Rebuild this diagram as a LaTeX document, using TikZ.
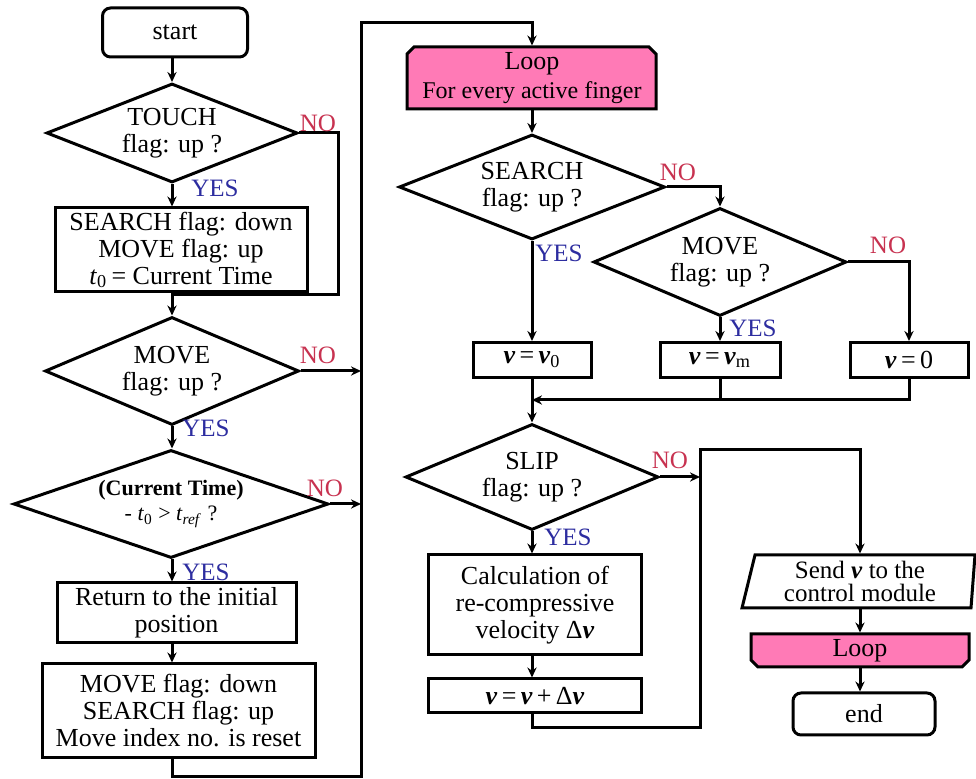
\documentclass[tikz,border=0pt]{standalone}
\usepackage{fontspec}
\setmainfont{Liberation Serif}
\usetikzlibrary{shapes.geometric,arrows.meta,calc}
\definecolor{nored}{RGB}{200,50,80}
\definecolor{yesblue}{RGB}{45,45,160}
\definecolor{loopink}{RGB}{255,122,182}
\newcommand{\vb}{\textbf{\textit{v}}}
\begin{document}
\begin{tikzpicture}[x=0.5pt,y=-0.5pt,
  line width=1.5pt,
  >={Stealth[length=5pt,width=4.6pt]},
  wh/.style 2 args={minimum width=#1*0.5pt,minimum height=#2*0.5pt},
  txt/.style={inner sep=0pt, align=center, font=\fontsize{13}{13.5}\selectfont},
  proc/.style={txt, draw=black, line width=1.5pt, rectangle},
  term/.style={txt, draw=black, line width=1.5pt, rectangle, rounded corners=4pt},
  dec/.style={txt, draw=black, line width=1.5pt, diamond, aspect=2.5},
  nolab/.style={text=nored, inner sep=0pt, font=\fontsize{12.5}{13}\selectfont},
  yeslab/.style={text=yesblue, inner sep=0pt, font=\fontsize{12.5}{13}\selectfont},
]
\fill[white] (0,0) rectangle (976,779);
\useasboundingbox (0,0) rectangle (976,779);

% ---------- left column ----------
\coordinate (colL) at (172,0);
\coordinate (vline) at (361,0);
\coordinate (tn) at (338,295);
\coordinate (bot) at (361,777);
\coordinate (top) at (361,23);

\node[term, wh={145}{49}] (start) at (175,32.5) {start};
\node[dec, wh={251}{99}] (touch) at (172,133) {TOUCH\\flag: up ?};
\node[proc, wh={252}{84}] (box1) at (181,250) {SEARCH flag: down\\MOVE flag: up\\\textit{t}\textsubscript{0}\,= Current Time};
\node[dec, wh={254}{108}] (moveL) at (172,371) {MOVE\\flag: up ?};
\node[dec, wh={315}{108}, font=\fontsize{11}{12.5}\selectfont] (time) at (171,504) {\textbf{(Current Time)}\\- \textit{t}\textsubscript{0} > \textit{t}\textsubscript{\textit{ref}} ?};
\node[proc, wh={239}{60}] (ret) at (176.5,613) {Return to the initial\\position};
\node[proc, wh={273}{94}] (last) at (178.5,711) {MOVE flag: down\\SEARCH flag: up\\Move index no. is reset};

\draw[->] (start.south -| colL) -- (touch.north);
\draw[->] (touch.south) -- (touch.south |- box1.north);
\draw[->] (box1.south -| colL) -- (moveL.north);
\draw (touch.east) -| (tn) -- (tn -| colL);
\draw[->] (moveL.south) -- (time.north -| moveL.south);
\draw[->] (moveL.east) -- (moveL.east -| vline);
\draw[->] (time.east) -- (time.east -| vline);
\draw[->] (time.south -| colL) -- (colL |- ret.north);
\draw[->] (ret.south -| colL) -- (colL |- last.north);

\node[nolab] (no1) at (318,123) {NO};
\node[yeslab] (yes1) at (215,188) {YES};
\node[nolab] (no2) at (318,355) {NO};
\node[yeslab] (yes2) at (206,428) {YES};
\node[nolab] (no3) at (325,488) {NO};
\node[yeslab] (yes3) at (206,572) {YES};

% ---------- right column ----------
\path[draw, fill=loopink] (407,109) -- (407,54) -- (414,47) -- (649,47) -- (656,54) -- (656,109) -- cycle;
\node[txt, wh={249}{62}] (loop) at (532,78) {Loop\\[1pt]{\fontsize{12}{13}\selectfont For every active finger}};

\draw[->] (last.south -| colL) -- (colL |- bot) -- (bot) -- (top) -- (top -| loop.north) -- (loop.north);

\node[dec, wh={266}{105}] (search) at (532,187) {SEARCH\\flag: up ?};
\node[dec, wh={253}{108}] (moveR) at (720,262) {MOVE\\flag: up ?};
\node[proc, wh={118}{35}] (v0) at (532,360) {\vb\,=\,\vb\textsubscript{0}};
\node[proc, wh={120}{35}] (vm) at (720,360) {\vb\,=\,\vb\textsubscript{m}};
\node[proc, wh={118}{35}] (vz) at (909,360) {\vb\,=\,0};
\node[dec, wh={253}{106}] (slip) at (532,477) {SLIP\\flag: up ?};
\node[proc, wh={213}{100}] (calc) at (535,605) {Calculation of\\re-compressive\\velocity Δ\vb};
\node[proc, wh={213}{34}] (upd) at (535,696) {\vb\,=\,\vb\,+\,Δ\vb};

\coordinate (mg) at (532,400);
\coordinate (r1) at (700,728);
\coordinate (r2) at (700,450);

\draw[->] (loop.south) -- (search.north);
\draw[->] (search.south) -- (v0.north);
\draw[->] (search.east) -| (moveR.north);
\draw[->] (moveR.south) -- (vm.north);
\draw[->] (moveR.east) -| (vz.north);
\draw[->] (v0.south) -- (slip.north);
\draw (vm.south) -- (vm.south |- mg);
\draw[->] (vz.south) |- (mg);
\draw[->] (slip.south) -- (slip.south |- calc.north);
\draw[->] (calc.south -| slip.south) -- (slip.south |- upd.north);
\draw[->] (slip.east) -- (slip.east -| r1);

% send / loop end / end
\path[draw, fill=white] (742,608) -- (755,555) -- (975,555) -- (971,608) -- cycle;
\node[txt, wh={200}{53}, font=\fontsize{12.5}{11.8}\selectfont] (send) at (860,581.5) {Send \vb{} to the\\control module};
\path[draw, fill=loopink] (751,634) -- (969,634) -- (969,660) -- (962,667) -- (758,667) -- (751,660) -- cycle;
\node[txt, wh={218}{33}] (loop2) at (860,650.5) {Loop};
\node[term, wh={142}{42}] (end) at (864,714) {end};

\draw[->] (upd.south -| slip.south) |- (r1) -- (r2) -| (send.north);
\draw[->] (send.south) -- (loop2.north);
\draw[->] (loop2.south) -- (loop2.south |- end.north);

\node[nolab] (no4) at (678,172) {NO};
\node[yeslab] (yes4) at (559,253) {YES};
\node[nolab] (no5) at (888,245) {NO};
\node[yeslab] (yes5) at (753,328) {YES};
\node[nolab] (no6) at (670,460) {NO};
\node[yeslab] (yes6) at (568,537) {YES};
\end{tikzpicture}
\end{document}
